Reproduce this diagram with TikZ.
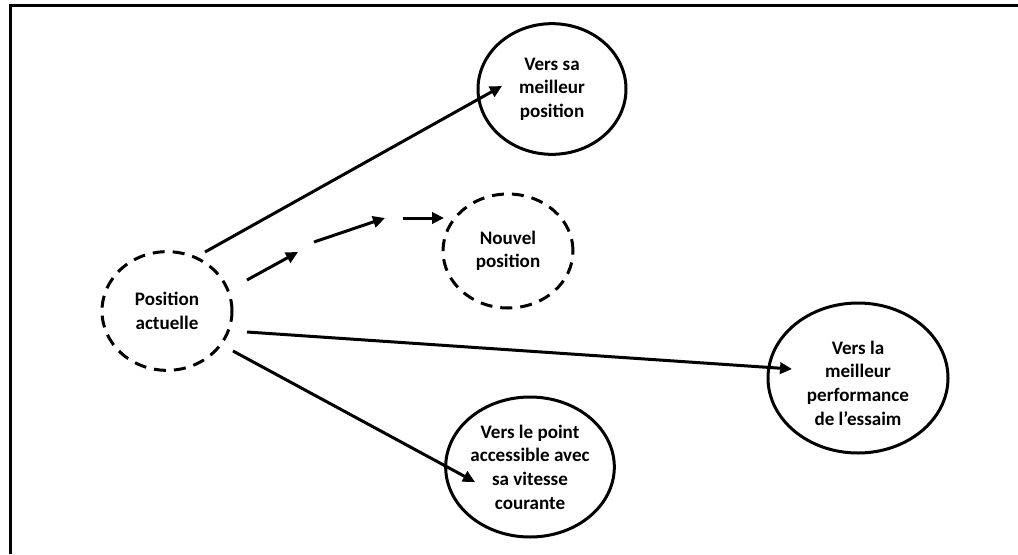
\documentclass[tikz,border=0pt]{standalone}
\usepackage{fontspec}
\setmainfont{Carlito}
\usetikzlibrary{shapes.geometric,arrows.meta}

\begin{document}
\begin{tikzpicture}[x=0.75pt,y=-0.75pt,
  caption/.style={align=center, inner sep=0pt,
    font=\bfseries\fontsize{14.3}{17.7}\selectfont},
  bubble/.style={ellipse, draw, line width=2.25pt, inner sep=0pt, caption},
  dashedbubble/.style={bubble, dash pattern=on 9pt off 6pt},
  link/.style={line width=2.25pt, -{Triangle[length=9pt,width=8.5pt]}}]
\useasboundingbox (0,0) rectangle (1018,554);

% open frame: top and left edges only
\draw[line width=2.25pt] (10.5,554) -- (10.5,5) -- (1018,5);

% particles and attractors
\node[dashedbubble, minimum width=97.5pt, minimum height=89pt] (pa) at (167,311) {Position\\actuelle};
\node[dashedbubble, minimum width=97.5pt, minimum height=85.5pt] (np) at (508,251) {Nouvel\\position};
\node[bubble, minimum width=111pt, minimum height=98pt] (bp) at (552,89) {Vers sa\\meilleur\\position};
\node[bubble, minimum width=124.5pt, minimum height=105pt] (vp) at (530,467) {Vers le point\\accessible avec\\sa vitesse\\courante};
\node[bubble, minimum width=135pt, minimum height=112.5pt] (gp) at (858,378) {};
\node[caption] (gptext) at ([yshift=-3.75pt]gp.center) {Vers la\\meilleur\\performance\\de l’essaim};

% connector end points
\coordinate (pa-bp) at (205,252);
\coordinate (bp-in) at (502,86);
\coordinate (s1a) at (247,280);
\coordinate (s1b) at (298,252);
\coordinate (s2a) at (314,242);
\coordinate (s2b) at (385,218);
\coordinate (s3a) at (403,218);
\coordinate (np-in) at (444,218);
\coordinate (pa-gp) at (247,332);
\coordinate (gp-in) at (792,369);
\coordinate (pa-vp) at (233,351);
\coordinate (vp-in) at (475,482);

% velocity components
\draw[link] (pa-bp) -- (bp-in);
\draw[link] (pa-gp) -- (gp-in);
\draw[link] (pa-vp) -- (vp-in);

% resulting move, drawn as a broken arrow
\draw[link] (s1a) -- (s1b);
\draw[link] (s2a) -- (s2b);
\draw[link] (s3a) -- (np-in);
\end{tikzpicture}
\end{document}
